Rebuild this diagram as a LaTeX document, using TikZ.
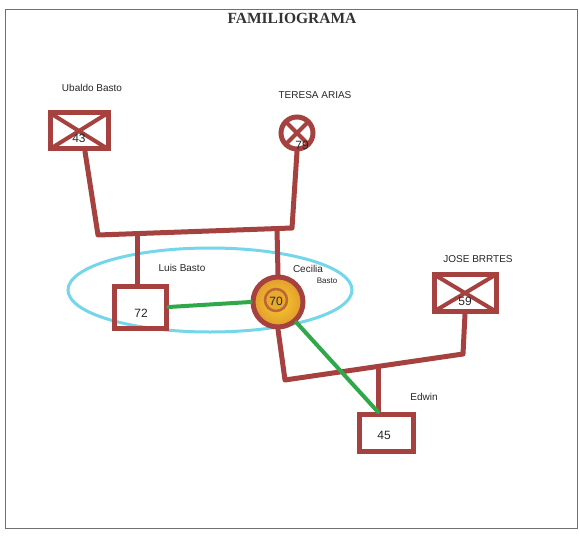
\documentclass[tikz,border=0pt]{standalone}
\usepackage{fontspec}
\setmainfont{Liberation Serif}
\setsansfont{Liberation Sans}
\usetikzlibrary{calc}
\definecolor{marker}{HTML}{A5423F}
\definecolor{mgreen}{HTML}{2FA84A}
\definecolor{mcyan}{HTML}{74D6EA}
\definecolor{myellow}{HTML}{F5CF2A}
\definecolor{morange}{HTML}{E39A2E}
\definecolor{frame}{HTML}{707070}
\tikzset{
  kinline/.style={draw=marker, line width=5pt, line cap=round, line join=round},
  bondline/.style={draw=mgreen, line width=4pt, line cap=round},
  person/.style={draw=marker, line width=5pt, inner sep=0pt},
  deceased/.style={path picture={\draw[marker, line width=4pt]
      (path picture bounding box.north west) -- (path picture bounding box.south east)
      (path picture bounding box.north east) -- (path picture bounding box.south west);}},
  age/.style={font=\sffamily\fontsize{12}{13}\selectfont, text=black!85},
  hand/.style={font=\sffamily\fontsize{10}{11}\selectfont, text=black!85},
}
\begin{document}
\begin{tikzpicture}[x=1pt,y=-1pt]
\useasboundingbox (0,0) rectangle (580,540);
\draw[frame, line width=0.8pt] (5,9) rectangle (577,528);
\node[font=\bfseries\fontsize{15.5}{17}\selectfont, text=black!80] (title) at (292,18) {FAMILIOGRAMA};

\draw[mcyan, line width=3pt] (210,290) ellipse [x radius=142, y radius=42];

% persons
\node[person, deceased, minimum width=58pt, minimum height=36pt] (ubaldo) at (79,131) {};
\node[person, deceased, circle, minimum size=32pt] (teresa) at (297,133) {};
\node[person, minimum width=52pt, minimum height=42pt] (luis) at (140,307) {};
\node[person, circle, inner color=myellow, outer color=morange, minimum size=50pt] (cecilia) at (278,302) {};
\node[circle, draw=marker!60!morange, line width=2.5pt, fill=morange!70!myellow, minimum size=22pt, inner sep=0pt] (cecring) at (276,300) {};
\node[person, deceased, minimum width=62pt, minimum height=37pt] (jose) at (465,293) {};
\node[person, minimum width=54pt, minimum height=37pt] (edwin) at (386,433) {};

% ages
\node[age] (a1) at (79,138) {43};
\node[age] (a2) at (302,145) {79};
\node[age] (a3) at (141,313) {72};
\node[age] (a4) at (276,301) {70};
\node[age] (a5) at (465,301) {59};
\node[age] (a6) at (384,435) {45};

% names
\node[hand] (n1) at (92,88) {Ubaldo Basto};
\node[hand] (n2) at (315,95) {TERESA ARIAS};
\node[hand] (n3) at (182,268) {Luis Basto};
\node[hand] (n4) at (308,269) {Cecilia};
\node[hand, font=\sffamily\fontsize{8}{9}\selectfont] (n4b) at (327,281) {Basto};
\node[hand] (n5) at (478,259) {JOSE BRRTES};
\node[hand] (n6) at (424,397) {Edwin};

% first couple
\coordinate (u0) at ($(ubaldo.south)+(6,0)$);
\coordinate (m1l) at (98,235);
\coordinate (m1r) at (292,228);
\draw[kinline] (u0) -- (m1l) -- (m1r) -- (teresa.south);
\coordinate (d1) at (137,234);
\coordinate (d2) at (277,229);
\draw[kinline] (d1) -- (d1 |- luis.north);
\draw[kinline] (d2) -- (cecilia.north);

% second couple
\coordinate (m2l) at (285,380);
\coordinate (m2r) at (463,354);
\draw[kinline] (cecilia.south) -- (m2l) -- (m2r) -- (jose.south);
\coordinate (d3) at (378,367);
\coordinate (e3) at (d3 |- edwin.north);
\draw[kinline] (d3) -- (e3);

% close bonds
\draw[bondline] (luis.east) -- (cecilia.west);
\draw[bondline] (cecilia.-48) -- (e3);
\end{tikzpicture}
\end{document}
